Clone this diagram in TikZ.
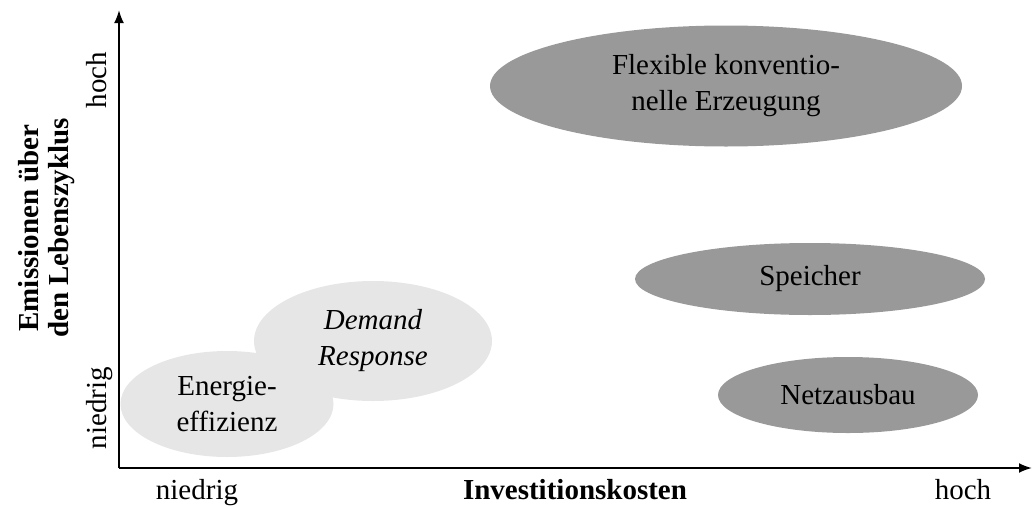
\documentclass[tikz,border=0pt]{standalone}
\usepackage{fontspec}
\setmainfont{Liberation Serif}
\usetikzlibrary{shapes.geometric,arrows.meta}
\definecolor{darkfill}{RGB}{153,153,153}
\definecolor{lightfill}{RGB}{230,230,230}
\begin{document}
\begin{tikzpicture}[x=1pt,y=-1pt,
  txt/.style={font=\fontsize{29}{36}\selectfont, align=center, inner sep=0pt},
  blob/.style={ellipse, draw=none, txt},
  darkblob/.style={blob, fill=darkfill},
  lightblob/.style={blob, fill=lightfill},
  axis/.style={line width=2pt, -{Latex[length=13pt,width=10pt]}},
  ticklabel/.style={font=\fontsize{29}{36}\selectfont, inner sep=0pt, anchor=base},
  axistitle/.style={font=\fontsize{29}{30}\selectfont\bfseries, align=center, inner sep=0pt}]
\useasboundingbox (0,0) rectangle (1032,506);

% high-emission options
\node[darkblob, minimum width=472pt, minimum height=121pt] (flex) at (726,86)
  {Flexible konventio-\\nelle Erzeugung};
\node[darkblob, minimum width=350pt, minimum height=72pt] (speicher) at (810,279) {Speicher};
\node[darkblob, minimum width=260pt, minimum height=76pt] (netz) at (848,395) {Netzausbau};

% low-cost options
\node[lightblob, minimum width=238pt, minimum height=120pt] (dr) at (373,341)
  {\itshape Demand\\\itshape Response};
\node[lightblob, minimum width=213pt, minimum height=106pt] (ee) at (227,404)
  {Energie-\\effizienz};

% axes
\coordinate (O) at (119,468);
\coordinate (ytop) at (119,10);
\coordinate (xend) at (1032,468);
\draw[axis] (O) -- (ytop);
\draw[axis] (O) -- (xend);

% horizontal axis labels
\node[ticklabel] (xlow) at (197,499) {niedrig};
\node[ticklabel] (xtitle) at (575,499) {\bfseries Investitionskosten};
\node[ticklabel] (xhigh) at (963,499) {hoch};

% vertical axis labels
\node[ticklabel, rotate=90] (yhigh) at (106,80) {hoch};
\node[ticklabel, rotate=90] (ylow) at (106,408) {niedrig};
\node[axistitle, rotate=90] (ytitle) at (47,228)
  {Emissionen über\\den Lebenszyklus};
\end{tikzpicture}
\end{document}
